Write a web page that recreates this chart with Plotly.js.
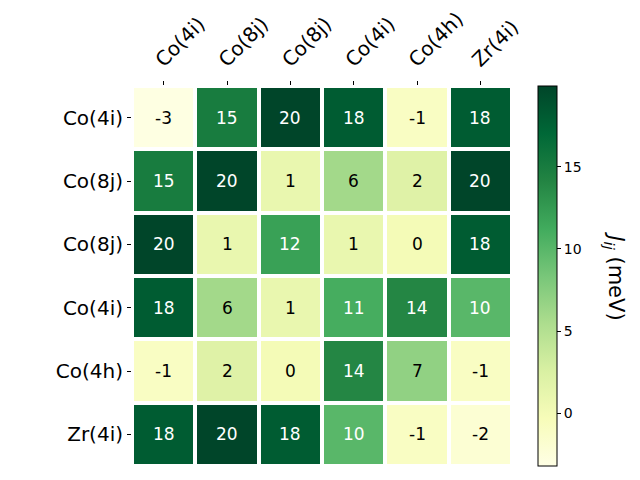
<!DOCTYPE html>
<html><head><meta charset="utf-8">
<script src="https://cdn.plot.ly/plotly-3.0.1.min.js"></script>
<style>body{margin:0;background:#fff}</style>
</head><body>
<div id="chart" style="width:640px;height:480px"></div>
<script>
const labels = ["Co(4i)", "Co(8j)", "Co(8j)", "Co(4i)", "Co(4h)", "Zr(4i)"];
const values = [
  [-3, 15, 20, 18, -1, 18],
  [15, 20, 1, 6, 2, 20],
  [20, 1, 12, 1, 0, 18],
  [18, 6, 1, 11, 14, 10],
  [-1, 2, 0, 14, 7, -1],
  [18, 20, 18, 10, -1, -2]
];
const zMin = -3.2, zMax = 19.9;
const idx = labels.map((_, i) => i);

const ylgn = [
  [0, '#ffffe5'], [0.125, '#f7fcb9'], [0.25, '#d9f0a3'], [0.375, '#addd8e'],
  [0.5, '#78c679'], [0.625, '#41ab5d'], [0.75, '#238443'], [0.875, '#006837'], [1, '#004529']
];

const annotations = [];
values.forEach((row, r) => row.forEach((v, c) => {
  annotations.push({x: c, y: r, xref: 'x', yref: 'y', text: String(v), showarrow: false,
    font: {family: 'DejaVu Sans', size: 17, color: v > 8 ? '#ffffff' : '#000000'}});
}));
annotations.push({xref: 'paper', yref: 'paper', x: 1.27, xanchor: 'center', y: 0.5, yanchor: 'middle',
  textangle: 90, showarrow: false,
  text: '<i>J<sub>ij</sub></i> (meV)', font: {family: 'DejaVu Sans', size: 21, color: '#000'}});

const trace = {
  type: 'heatmap', x: idx, y: idx, z: values, zmin: zMin, zmax: zMax,
  colorscale: ylgn, xgap: 4, ygap: 4, hoverinfo: 'none',
  colorbar: {x: 1.068, xanchor: 'left', y: 0.5, yanchor: 'middle', len: 1, lenmode: 'fraction',
    thickness: 19, thicknessmode: 'pixels', outlinewidth: 1, outlinecolor: '#000',
    ticks: 'outside', ticklen: 4, tickcolor: '#000', tickvals: [0, 5, 10, 15],
    tickfont: {family: 'DejaVu Sans', size: 14, color: '#000'}, xpad: 0, ypad: 0}
};

const layout = {
  width: 640, height: 480,
  margin: {l: 132, r: 128, t: 86, b: 14},
  paper_bgcolor: '#fff', plot_bgcolor: '#fff',
  font: {family: 'DejaVu Sans', color: '#000'},
  xaxis: {side: 'top', tickvals: idx, ticktext: labels, tickangle: -45, range: [-0.5, 5.5],
    ticks: 'outside', ticklen: 4, tickcolor: '#000', showgrid: false, zeroline: false,
    ticklabelshift: -7, ticklabelstandoff: 2,
    tickfont: {size: 20, family: 'DejaVu Sans'}},
  yaxis: {tickvals: idx, ticktext: labels, range: [5.5, -0.5],
    ticks: 'outside', ticklen: 4, tickcolor: '#000', showgrid: false, zeroline: false,
    tickfont: {size: 20, family: 'DejaVu Sans'}},
  annotations: annotations
};

Plotly.newPlot('chart', [trace], layout, {displayModeBar: false, staticPlot: true});
</script>
</body></html>
